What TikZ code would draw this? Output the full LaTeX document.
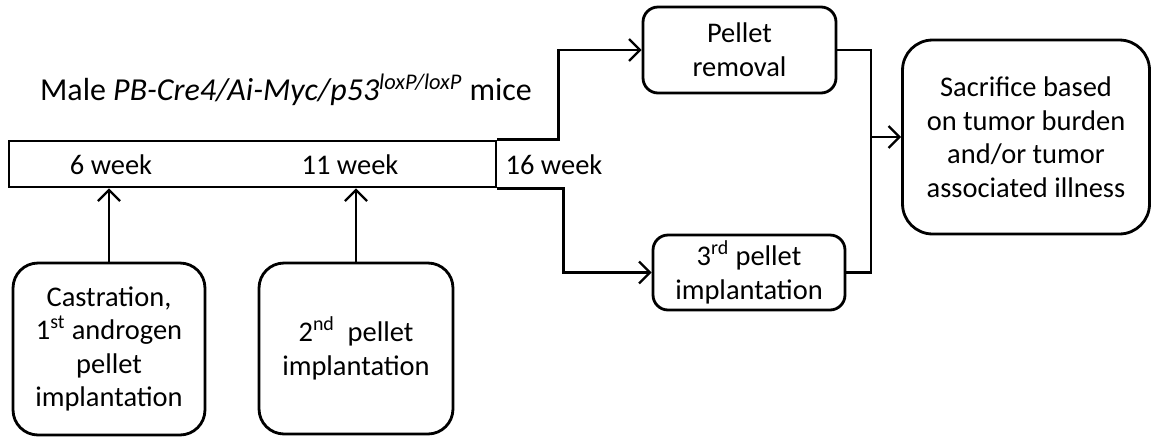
\documentclass[tikz,border=0pt]{standalone}
\usepackage{fontspec}
\setmainfont{Carlito}
\usetikzlibrary{arrows.meta}
\begin{document}
\begin{tikzpicture}[
                x = 0.02cm, y = -0.02cm,
                every node/.style = {font = \fontsize{16.2}{19.1}\selectfont},
                box/.style = {draw, line width = 1.6pt, rounded corners = 5mm, align = center, inner sep = 0mm},
                bar/.style = {draw, line width = 1.6pt, inner sep = 0mm},
                arr/.style = {draw, line width = 1.3pt, -{Straight Barb[length = 2.2mm, width = 4.4mm]}},
                ln/.style = {draw, line width = 1.3pt},
            ]
            \useasboundingbox (0,0) rectangle (1151,436);

            \node (title) at (286, 90) {\fontsize{18.2}{22}\selectfont Male \textit{PB-Cre4/Ai-Myc/p53\textsuperscript{loxP/loxP}} mice};

            \node (timeline) [bar, minimum width = 9.74cm, minimum height = 0.92cm] at (252.5, 164) {};
            \node (w6) at (111, 165) {6 week};
            \node (w11) at (350, 165) {11 week};
            \node (w16) at (554, 165) {16 week};

            \node (castr) [box, minimum width = 3.84cm, minimum height = 3.44cm] at (109, 349)
                {Castration,\\1\textsuperscript{st} androgen\\pellet\\implantation};
            \node (second) [box, minimum width = 3.88cm, minimum height = 3.42cm] at (356, 348.5)
                {2\textsuperscript{nd}\ \ pellet\\implantation};

            \node (removal) [box, rounded corners = 3mm, minimum width = 3.86cm, minimum height = 1.72cm] at (739.5, 50)
                {Pellet\\removal};
            \node (third) [box, rounded corners = 3mm, minimum width = 3.84cm, minimum height = 1.5cm] at (749, 272.5)
                {3\textsuperscript{rd} pellet\\implantation};

            \node (sacr) [box, rounded corners = 6mm, minimum width = 4.94cm, minimum height = 3.88cm] at (1026, 137)
                {Sacrifice based\\on tumor burden\\and/or tumor\\associated illness};

            \coordinate (join) at (871, 137);

            \path[arr] (castr.north) -- (castr.north |- timeline.south);
            \path[arr] (second.north) -- (second.north |- timeline.south);

            \path[arr] (timeline.north east) -- ++(61, 0) |- (removal.west);
            \path[arr] (timeline.south east) -- ++(66, 0) |- (third.west);

            \path[ln] (removal.east) -| (join);
            \path[ln] (third.east) -| (join);
            \path[arr] (join) -- (sacr.west);
        \end{tikzpicture}
\end{document}
